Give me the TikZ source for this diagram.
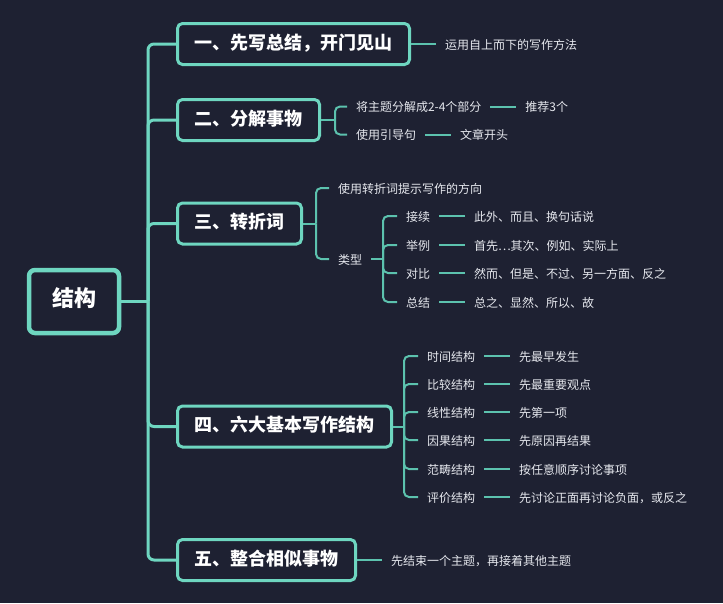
\documentclass[tikz,border=0pt]{standalone}
\usepackage{fontspec}
\setmainfont{Noto Sans CJK SC}
\usetikzlibrary{positioning}
\definecolor{bgcol}{HTML}{1E2132}
\definecolor{tealA}{HTML}{6ED6C0}
\definecolor{tealB}{HTML}{5CC2AE}
\definecolor{leaftext}{HTML}{E6E8EE}

\begin{document}
\begin{tikzpicture}[x=1pt, y=-1pt, node distance=26pt,
  root/.style={draw=tealA, line width=4.5pt, fill=bgcol, rounded corners=6pt, text=white,
    font=\fontsize{22}{22}\selectfont\bfseries, minimum width=90pt, minimum height=63pt,
    text height=1em, text depth=0em},
  topic/.style={draw=tealA, line width=3pt, fill=bgcol, rounded corners=5pt, text=white,
    font=\fontsize{18}{18}\selectfont\bfseries, inner xsep=17pt, minimum height=41pt,
    text height=1em, text depth=0em, anchor=west},
  leaf/.style={text=leaftext, font=\fontsize{12}{12}\selectfont, inner xsep=3pt, inner ysep=2pt,
    outer xsep=6pt, text height=1em, text depth=0em, anchor=west},
  branch/.style={draw=tealA, line width=3pt, rounded corners=6pt},
  twig/.style={draw=tealB, line width=2pt, rounded corners=5pt}]

  \fill[bgcol] (0,0) rectangle (723,603);

  % 中心与主干
  \node[root] (root) at (74,301.5) {结构};
  \node[topic] (t1) at (176,44) {一、先写总结，开门见山};
  \node[topic] (t2) at (176,120) {二、分解事物};
  \node[topic] (t3) at (176,223.5) {三、转折词};
  \node[topic] (t4) at (176,426.5) {四、六大基本写作结构};
  \node[topic] (t5) at (176,560) {五、整合相似事物};

  \coordinate (trunk) at (148,301.5);
  \draw[branch] (root) -- (trunk);
  \foreach \t in {t1,t2,t3,t4,t5}
    \draw[branch] (trunk) |- (\t.west);

  % 一
  \node[leaf, right=25pt of t1] (t1a) {运用自上而下的写作方法};
  \draw[twig] (t1) -- (t1a);

  % 二
  \coordinate (f2) at (335,120);
  \node[leaf] (t2a) at (347,106.5) {将主题分解成2-4个部分};
  \node[leaf] (t2b) at (347,134.5) {使用引导句};
  \node[leaf, right=of t2a] (t2a1) {推荐3个};
  \node[leaf, right=of t2b] (t2b1) {文章开头};
  \draw[twig] (t2) -- (f2);
  \foreach \c in {t2a,t2b}
    \draw[twig] (f2) |- (\c.west);
  \draw[twig] (t2a) -- (t2a1);
  \draw[twig] (t2b) -- (t2b1);

  % 三
  \coordinate (f3) at (316,223.5);
  \node[leaf] (t3a) at (329,188) {使用转折词提示写作的方向};
  \node[leaf] (t3b) at (329,259) {类型};
  \draw[twig] (t3) -- (f3);
  \foreach \c in {t3a,t3b}
    \draw[twig] (f3) |- (\c.west);

  \coordinate (f3b) at (383,259);
  \draw[twig] (t3b) -- (f3b);
  \foreach \n/\y/\a/\b in {k1/216/接续/{此外、而且、换句话说},
                           k2/245/举例/{首先\ldots 其次、例如、实际上},
                           k3/273/对比/{然而、但是、不过、另一方面、反之},
                           k4/302/总结/{总之、显然、所以、故}} {
    \node[leaf] (\n) at (397,\y) {\a};
    \node[leaf, right=of \n] (\n x) {\b};
    \draw[twig] (f3b) |- (\n.west);
    \draw[twig] (\n) -- (\n x);
  }

  % 四
  \coordinate (f4) at (404,426.5);
  \draw[twig] (t4) -- (f4);
  \foreach \n/\y/\a/\b in {s1/356/时间结构/先最早发生,
                           s2/384/比较结构/先最重要观点,
                           s3/412/线性结构/先第一项,
                           s4/440/因果结构/先原因再结果,
                           s5/469/范畴结构/按任意顺序讨论事项,
                           s6/497/评价结构/{先讨论正面再讨论负面，或反之}} {
    \node[leaf] (\n) at (418,\y) {\a};
    \node[leaf, right=of \n] (\n x) {\b};
    \draw[twig] (f4) |- (\n.west);
    \draw[twig] (\n) -- (\n x);
  }

  % 五
  \node[leaf, right=25pt of t5] (t5a) {先结束一个主题，再接着其他主题};
  \draw[twig] (t5) -- (t5a);
\end{tikzpicture}
\end{document}
